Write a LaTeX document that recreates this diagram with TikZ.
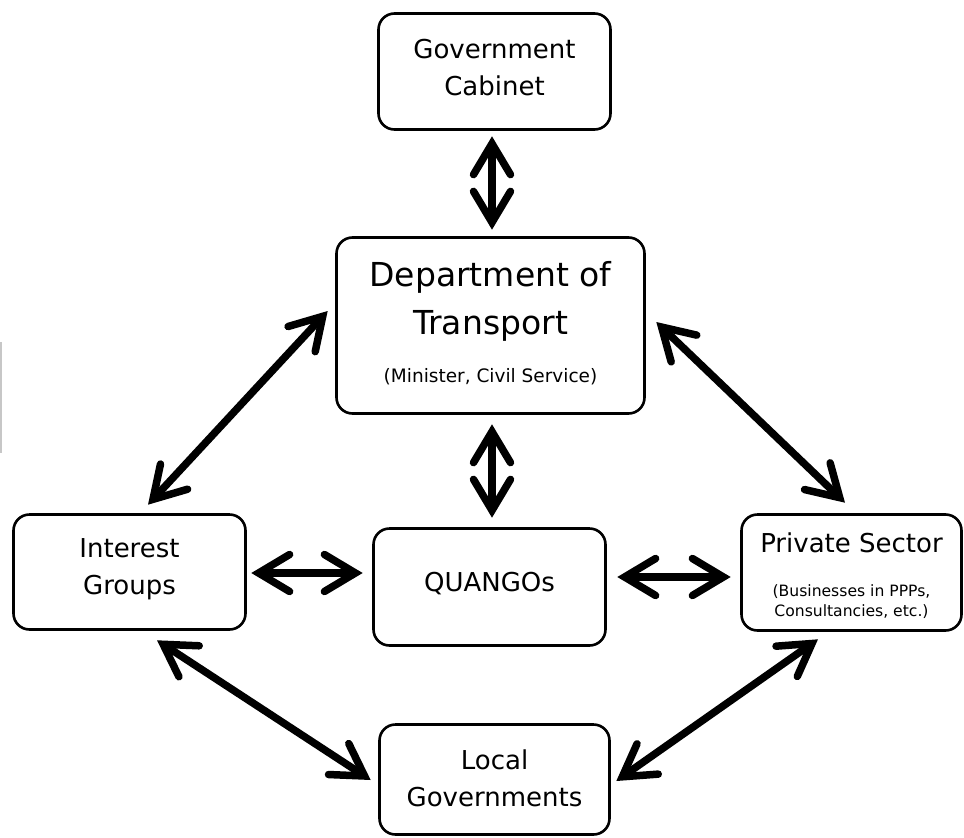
\documentclass[tikz,border=0pt]{standalone}
\usepackage{fontspec}
\setmainfont{DejaVu Sans}
\usetikzlibrary{arrows.meta,calc}
\newcommand\xdep[1]{\rule[-#1]{0pt}{#1}}
\newcommand\xhgt[1]{\rule{0pt}{#1}}
\newcommand\psub{\fontsize{15.6pt}{20pt}\selectfont}
\newcommand\dsub{\fontsize{18.5pt}{49pt}\selectfont}
\begin{document}
\begin{tikzpicture}[x=1pt,y=-1pt,
  box/.style={draw, line width=2.6pt, rounded corners=16pt, align=center, inner sep=0pt,
    font=\fontsize{26pt}{37pt}\selectfont},
  barb/.tip={Straight Barb[length=31pt,width=37pt,line cap=round,line join=miter]},
  biarrow/.style={line width=7.5pt, barb-barb}]
\useasboundingbox (0,0) rectangle (964,838);
\draw[black!22, line width=1.5pt] (0.75,342) -- (0.75,453);

\node[box, minimum width=232pt, minimum height=116pt] (cab) at (494.5,71.5)
  {Government\\Cabinet\xdep{7.5pt}};
\node[box, minimum width=308pt, minimum height=176pt, font=\fontsize{33pt}{48pt}\selectfont] (dot) at (490.5,325.5)
  {Department of\\Transport\\\dsub (Minister, Civil Service)\xdep{7.5pt}};
\node[box, minimum width=232pt, minimum height=115pt] (ig) at (129.5,572)
  {Interest\\Groups\xdep{11pt}};
\node[box, minimum width=232pt, minimum height=117pt] (qu) at (489.5,587)
  {QUANGOs\xdep{10pt}};
\node[box, minimum width=220pt, minimum height=116pt, font=\fontsize{26pt}{20pt}\selectfont] (ps) at (851.5,572.5)
  {\xhgt{27pt}Private Sector\\[24pt]\psub (Businesses in PPPs,\\\psub Consultancies, etc.)};
\node[box, minimum width=230pt, minimum height=110pt] (lg) at (494.5,779.5)
  {Local\\Governments\xdep{3pt}};

\draw[biarrow] ($(cab.south)+(-2.5,5.5)$) -- ($(dot.north)+(1.5,-6.5)$);
\draw[biarrow] ($(dot.south)+(1.5,9.5)$) -- ($(qu.north)+(2.5,-9.5)$);
\draw[biarrow] ($(ig.east)+(4.5,1)$) -- ($(qu.west)+(-9.5,-14)$);
\draw[biarrow] ($(qu.east)+(10.5,-10)$) -- ($(ps.west)+(-9.5,4.5)$);
\draw[biarrow] ($(dot.west)+(-7.5,-14.5)$) -- ($(ig.north)+(18.5,-8.5)$);
\draw[biarrow] ($(dot.east)+(10.5,-3.5)$) -- ($(ps.north)+(-6.5,-10.5)$);
\draw[biarrow] ($(ig.south)+(27.5,9.5)$) -- ($(lg.west)+(-7.5,0.5)$);
\draw[biarrow] ($(ps.south)+(-33.5,7.5)$) -- ($(lg.east)+(5.5,1.5)$);
\end{tikzpicture}
\end{document}
